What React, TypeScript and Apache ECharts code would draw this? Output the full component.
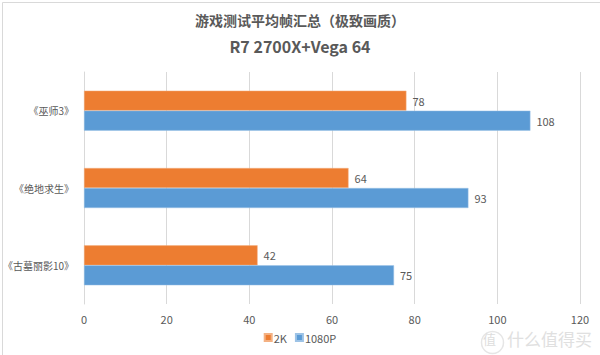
import React, { useEffect, useRef } from "react";
import * as echarts from "echarts";

const categories = ["《古墓丽影10》", "《绝地求生》", "《巫师3》"];
const series2K = [42, 64, 78];
const series1080P = [75, 93, 108];
const xTicks = { min: 0, max: 120, interval: 20 };

export default function App() {
  const ref = useRef<HTMLDivElement>(null);
  useEffect(() => {
    if (!ref.current) return;
    const chart = echarts.init(ref.current, undefined, { renderer: "svg" });
    const font = "'Noto Sans CJK SC', 'Noto Sans', sans-serif";
    chart.setOption({
      animation: false,
      backgroundColor: "#ffffff",
      textStyle: { fontFamily: font },
      title: [
        {
          text: "游戏测试平均帧汇总（极致画质）",
          left: "center",
          top: 8,
          textStyle: { fontSize: 14, fontWeight: "bold", color: "#595959", fontFamily: font },
        },
        {
          text: "R7 2700X+Vega 64",
          left: "center",
          top: 33,
          textStyle: { fontSize: 16, fontWeight: "bold", color: "#595959", fontFamily: font },
        },
      ],
      legend: {
        bottom: 7,
        left: "center",
        data: ["2K", "1080P"],
        itemWidth: 7,
        itemHeight: 7,
        itemGap: 8,
        icon: "rect",
        textStyle: { fontSize: 11, color: "#595959", padding: [0, 0, 0, -3] },
      },
      grid: { left: 84, right: 20, top: 72, bottom: 51, outerBoundsMode: "none", containLabel: false },
      xAxis: {
        type: "value",
        min: xTicks.min,
        max: xTicks.max,
        interval: xTicks.interval,
        axisLine: { show: false },
        axisTick: { show: false },
        splitLine: { lineStyle: { color: "#d9d9d9", width: 1 } },
        axisLabel: { color: "#595959", fontSize: 11, margin: 9 },
      },
      yAxis: {
        type: "category",
        data: categories,
        axisLine: { show: true, lineStyle: { color: "#d9d9d9" } },
        axisTick: { show: false },
        axisLabel: { color: "#595959", fontSize: 10, margin: 10 },
      },
      series: [
        {
          name: "2K",
          type: "bar",
          data: series2K,
          barWidth: 20,
          barGap: "0%",
          itemStyle: { color: "#ED7D31", borderColor: "#f4b183", borderWidth: 0.5 },
          label: { show: true, position: "right", color: "#595959", fontSize: 11, distance: 6 },
        },
        {
          name: "1080P",
          type: "bar",
          data: series1080P,
          barWidth: 20,
          barGap: "0%",
          itemStyle: { color: "#5B9BD5", borderColor: "#9dc3e6", borderWidth: 0.5 },
          label: { show: true, position: "right", color: "#595959", fontSize: 11, distance: 6 },
        },
      ],
      graphic: [
        {
          type: "rect",
          left: 0,
          top: 0,
          shape: { width: 599, height: 354 },
          style: { fill: "none", stroke: "#d9d9d9", lineWidth: 1 },
          silent: true,
        },
        {
          type: "circle",
          left: 479,
          top: 329,
          shape: { r: 11 },
          style: { fill: "none", stroke: "#e6e6e6", lineWidth: 1.5 },
          silent: true,
        },
        {
          type: "text",
          left: 483,
          top: 332,
          style: { text: "值", fill: "#dddddd", font: "13px 'Noto Sans CJK SC'" },
          silent: true,
        },
        {
          type: "text",
          left: 507,
          top: 330,
          style: { text: "什么值得买", fill: "#e0e0e0", font: "17px 'Noto Sans CJK SC'" },
          silent: true,
        },
      ],
    });
    return () => chart.dispose();
  }, []);
  return (
    <div
      ref={ref}
      style={{ position: "fixed", left: 0, top: 0, width: 600, height: 355 }}
    />
  );
}
